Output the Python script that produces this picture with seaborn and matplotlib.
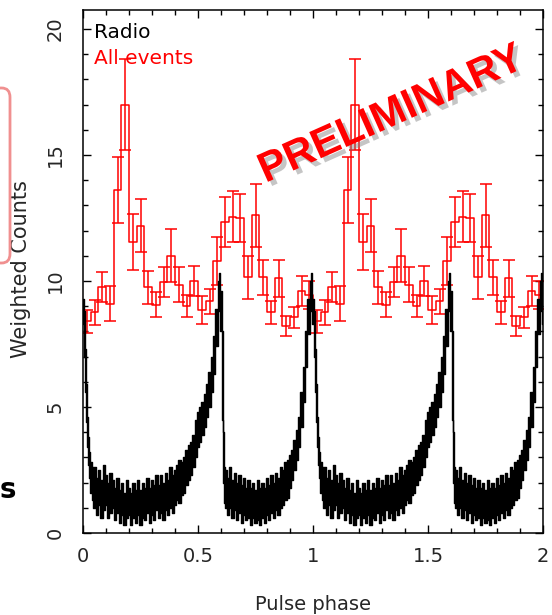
import numpy as np
import pandas as pd
import matplotlib
matplotlib.use("Agg")
import matplotlib.pyplot as plt
import matplotlib.patheffects as pe
from matplotlib.patches import FancyBboxPatch
from matplotlib.ticker import MultipleLocator
import seaborn as sns

# ---------------- data ----------------
# gamma-ray ("All events") weighted counts, 30 bins per rotation
gamma_counts = [8.4, 8.75, 9.75, 9.1, 13.6, 17.0, 11.55, 12.2, 9.75, 9.05,
                9.95, 11.0, 9.85, 9.0, 10.0, 8.85, 9.2, 10.8, 12.35, 12.55,
                12.5, 10.15, 12.6, 10.15, 8.75, 10.1, 8.2, 8.55, 9.6, 9.45]
gamma_errors = [0.45, 0.5, 0.6, 0.7, 1.3, 1.8, 1.1, 1.05, 0.65, 0.5,
                0.6, 1.05, 0.7, 0.45, 0.6, 0.55, 0.5, 0.95, 1.0, 1.0,
                0.95, 0.85, 1.25, 0.7, 0.45, 0.75, 0.4, 0.4, 0.6, 0.55]

# radio profile (one rotation): phase, lower and upper edge of the noisy trace
radio_phase = [0.000, 0.005, 0.010, 0.015, 0.020, 0.025, 0.030, 0.035, 0.040,
               0.050, 0.060, 0.070, 0.080, 0.090, 0.100, 0.110, 0.120, 0.130,
               0.140, 0.150, 0.160, 0.170, 0.180, 0.190, 0.200, 0.210, 0.220,
               0.230, 0.240, 0.250, 0.260, 0.270, 0.280, 0.290, 0.300, 0.310,
               0.320, 0.330, 0.340, 0.350, 0.360, 0.370, 0.380, 0.390, 0.400,
               0.410, 0.420, 0.430, 0.440, 0.450, 0.460, 0.470, 0.480, 0.490,
               0.500, 0.510, 0.520, 0.530, 0.540, 0.550, 0.560, 0.570, 0.580,
               0.590, 0.595, 0.600, 0.605, 0.610, 0.615, 0.620, 0.630, 0.640,
               0.650, 0.660, 0.670, 0.680, 0.690, 0.700, 0.710, 0.720, 0.730,
               0.740, 0.750, 0.760, 0.770, 0.780, 0.790, 0.800, 0.810, 0.820,
               0.830, 0.840, 0.850, 0.860, 0.870, 0.880, 0.890, 0.900, 0.910,
               0.920, 0.930, 0.940, 0.950, 0.960, 0.970, 0.980, 0.990, 0.995]
radio_low = [8.3, 7.0, 5.6, 4.4, 3.4, 2.7, 2.2, 1.6, 1.3,
             1.0, 0.7, 1.1, 0.6, 0.9, 1.1, 0.6, 0.8, 1.0,
             0.5, 0.8, 0.4, 0.7, 0.3, 0.6, 0.7, 0.3, 0.6,
             0.4, 0.7, 0.3, 0.6, 0.5, 0.8, 0.4, 0.7, 0.5,
             0.9, 0.6, 0.8, 0.5, 0.9, 0.7, 1.0, 0.8, 1.1,
             1.3, 1.2, 1.5, 1.6, 1.9, 2.1, 2.3, 2.6, 3.0,
             3.4, 3.6, 3.9, 4.2, 4.6, 5.0, 5.6, 6.3, 7.4,
             8.8, 9.3, 8.0, 4.5, 2.0, 1.2, 1.0, 0.7, 1.0,
             0.6, 0.9, 0.5, 0.8, 0.4, 0.7, 0.5, 0.6, 0.3,
             0.6, 0.4, 0.5, 0.3, 0.6, 0.4, 0.7, 0.5, 0.8,
             0.6, 0.9, 0.7, 1.0, 1.1, 1.3, 1.4, 1.8, 2.1,
             2.5, 2.9, 3.4, 4.2, 5.2, 6.6, 7.9, 8.8, 9.2]
radio_high = [9.3, 8.8, 7.3, 5.9, 4.6, 3.8, 3.2, 2.8, 2.6,
              2.6, 2.2, 2.5, 2.1, 2.7, 2.3, 2.0, 2.4, 2.1,
              1.8, 2.2, 1.7, 2.0, 1.6, 2.1, 1.8, 1.6, 2.0,
              1.7, 2.1, 1.7, 2.0, 1.8, 2.2, 1.8, 2.1, 1.9,
              2.3, 1.9, 2.3, 2.0, 2.4, 2.1, 2.6, 2.3, 2.5,
              2.7, 2.9, 2.8, 3.0, 3.3, 3.5, 3.6, 3.9, 4.5,
              4.8, 5.0, 5.2, 5.5, 5.9, 6.4, 7.0, 7.8, 8.9,
              10.0, 10.3, 9.6, 8.0, 4.0, 2.6, 2.5, 2.2, 2.6,
              2.1, 2.4, 2.0, 2.3, 1.9, 2.2, 1.8, 2.1, 1.8,
              2.0, 1.7, 2.1, 1.8, 2.0, 1.8, 2.2, 1.9, 2.3,
              2.0, 2.4, 2.2, 2.6, 2.5, 2.8, 2.9, 3.1, 3.3,
              3.7, 4.1, 4.6, 5.6, 6.6, 8.0, 9.3, 10.0, 10.3]

x_ticks = [0, 0.5, 1, 1.5, 2]
x_tick_labels = ["0", "0.5", "1", "1.5", "2"]
y_ticks = [0, 5, 10, 15, 20]
y_tick_labels = ["0", "5", "10", "15", "20"]
n_cycles = 2

# ---------------- build tables (profile shown over two rotations) ----------------
nb = len(gamma_counts)
gamma = pd.DataFrame({
    "phase": [(i + 0.5) / nb + c for c in range(n_cycles) for i in range(nb)],
    "counts": gamma_counts * n_cycles,
    "err": gamma_errors * n_cycles,
})
radio = pd.DataFrame({
    "phase": [p + c for c in range(n_cycles) for p in radio_phase] + [float(n_cycles)],
    "low": radio_low * n_cycles + [radio_low[0]],
    "high": radio_high * n_cycles + [radio_high[0]],
})

# ---------------- style ----------------
sns.set_theme(style="ticks")
plt.rcParams["font.family"] = ["DejaVu Sans"]
plt.rcParams["axes.linewidth"] = 1.1

fig = plt.figure(figsize=(5.52, 6.15), dpi=100)
ax = fig.add_axes([83 / 552, 1 - 533 / 615, 460 / 552, 523 / 615])

RED = "#ff0000"

# red histogram (step)
sns.histplot(data=gamma, x="phase", weights="counts", bins=nb * n_cycles,
             binrange=(0, n_cycles), element="step", fill=False,
             color=RED, linewidth=1.1, ax=ax, zorder=2)
ax.errorbar(gamma["phase"], gamma["counts"], yerr=gamma["err"], fmt="none",
            ecolor=RED, elinewidth=1.1, capsize=4.2, capthick=1.1, zorder=2)

# black radio profile (noisy band)
ax.fill_between(radio["phase"], radio["low"], radio["high"], color="black",
                linewidth=0, zorder=3, step="mid")
sns.lineplot(x=radio["phase"], y=radio["low"], color="black", linewidth=1.0,
             estimator=None, sort=False, ax=ax, zorder=3, drawstyle="steps-mid")
sns.lineplot(x=radio["phase"], y=radio["high"], color="black", linewidth=1.0,
             estimator=None, sort=False, ax=ax, zorder=3, drawstyle="steps-mid")

# axes
ax.set_xlim(0, 2)
ax.set_ylim(0, 20.75)
ax.set_xticks(x_ticks)
ax.set_xticklabels(x_tick_labels)
ax.set_yticks(y_ticks)
ax.set_yticklabels(y_tick_labels, rotation=90, va="center")
ax.xaxis.set_minor_locator(MultipleLocator(0.1))
ax.yaxis.set_minor_locator(MultipleLocator(1))
ax.tick_params(which="both", direction="in", top=True, right=True,
               color="black", width=1.0)
ax.tick_params(which="major", length=6)
ax.tick_params(which="minor", length=3.5)
ax.tick_params(axis="x", which="major", pad=10, labelsize=14)
ax.tick_params(axis="y", which="major", pad=13, labelsize=14)
for s in ax.spines.values():
    s.set_color("black")
    s.set_visible(True)

ax.set_xlabel("Pulse phase", fontsize=14)
ax.set_ylabel("Weighted Counts", fontsize=15)
ax.xaxis.set_label_coords(0.5, -0.118)
ax.yaxis.set_label_coords(-0.113, 0.505)

ax.text(0.05, 20.25, "Radio", color="black", fontsize=14.5, ha="left", va="top")
ax.text(0.05, 19.2, "All events", color=RED, fontsize=14.5, ha="left", va="top")

# PRELIMINARY stamp
fig.text(391 / 552, 1 - 115 / 615, "PRELIMINARY", rotation=24,
         rotation_mode="anchor", ha="center", va="center",
         fontsize=30, fontweight="bold", family="Liberation Sans", color=RED,
         path_effects=[pe.withSimplePatchShadow(offset=(3, -3),
                                                shadow_rgbFace="gray", alpha=0.45)],
         zorder=10)

# slide remnants at the left edge
box = FancyBboxPatch((-0.2, 1 - 263 / 615), 0.2 + 10 / 552, (263 - 88) / 615,
                     boxstyle="round,pad=0,rounding_size=0.015",
                     transform=fig.transFigure, facecolor="none",
                     edgecolor="#f09090", linewidth=2, zorder=0)
fig.patches.append(box)
fig.text(0 / 552, 1 - 490 / 615, "s", fontsize=20, fontweight="bold",
         ha="left", va="center", color="black")

fig.savefig("out.png", dpi=100)
